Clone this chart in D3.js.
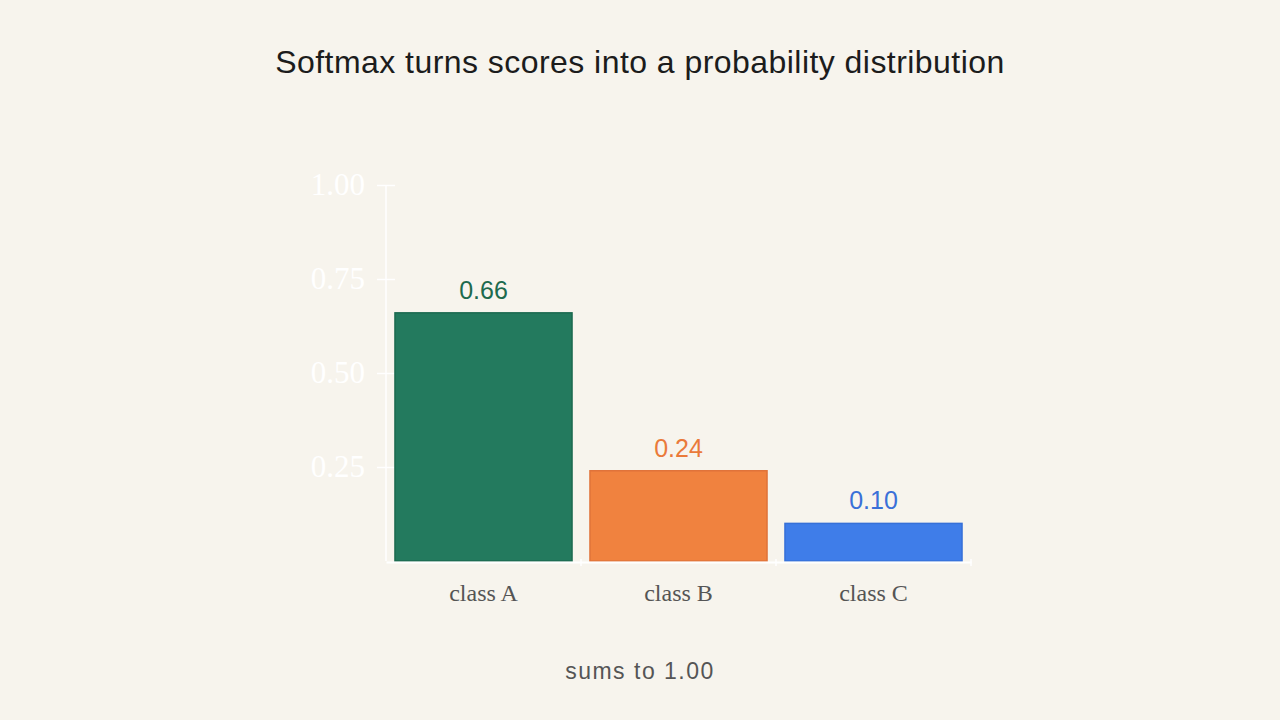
<!DOCTYPE html>
<html>
<head>
<meta charset="utf-8">
<script src="https://cdn.jsdelivr.net/npm/d3@7"></script>
<style>
	html, body { margin: 0; padding: 0; background: #f7f4ed; }
	svg { display: block; }
</style>
</head>
<body>
<div id="chart"></div>
<script>
// Chart data
const categories = ["class A", "class B", "class C"];
const probs = [0.66, 0.24, 0.10];
const yTicks = [0.25, 0.50, 0.75, 1.00];
const barColors = ["#237a5e", "#f0823f", "#3f7de9"];
const strokeColors = ["#1c6a50", "#e0733a", "#3670d8"];
const labelColors = ["#1d6a4e", "#ea7a3a", "#3a70d8"];
const titleText = "Softmax turns scores into a probability distribution";
const noteText = "sums to 1.00";

const width = 1280, height = 720;

const svg = d3.select("#chart").append("svg")
	.attr("width", width)
	.attr("height", height)
	.attr("viewBox", [0, 0, width, height]);

svg.append("rect")
	.attr("width", width)
	.attr("height", height)
	.attr("fill", "#f7f4ed");

const x = d3.scaleBand()
	.domain(categories)
	.range([386, 971])
	.paddingInner(0.092)
	.paddingOuter(0.046);

const y = d3.scaleLinear()
	.domain([0, 1])
	.range([561, 185]);

// title
svg.append("text")
	.attr("x", width / 2)
	.attr("y", 73)
	.attr("text-anchor", "middle")
	.attr("font-family", "'Liberation Sans', Arial, sans-serif")
	.attr("font-size", 32)
	.attr("letter-spacing", 0.45)
	.attr("fill", "#1c1c1c")
	.text(titleText);

// y axis (white, almost invisible)
const yAxis = svg.append("g")
	.attr("transform", "translate(386,0)")
	.call(d3.axisLeft(y).tickValues(yTicks).tickFormat(d3.format(".2f")).tickSize(9).tickPadding(12));

yAxis.select(".domain").attr("stroke", "#ffffff").attr("stroke-width", 1.5).attr("d", `M0,${y(1)}V${y(0)}`);
yAxis.selectAll(".tick line").attr("stroke", "#ffffff").attr("stroke-width", 1.5).attr("x1", 9);
yAxis.selectAll(".tick text")
	.attr("fill", "#ffffff")
	.attr("font-family", "'Liberation Serif', 'DejaVu Serif', serif")
	.attr("font-size", 31);

// bars
svg.append("g")
	.selectAll("rect")
	.data(probs)
	.join("rect")
	.attr("x", (d, i) => x(categories[i]))
	.attr("y", d => y(d))
	.attr("width", x.bandwidth())
	.attr("height", d => y(0) - y(d))
	.attr("fill", (d, i) => barColors[i])
	.attr("stroke", (d, i) => strokeColors[i])
	.attr("stroke-width", 1.5);

// x axis
const xAxis = svg.append("g")
	.attr("transform", `translate(0,${y(0) + 1})`)
	.call(d3.axisBottom(x).tickSize(0).tickPadding(22));

xAxis.select(".domain").attr("stroke", "#ffffff").attr("stroke-width", 2);
xAxis.selectAll(".tick text")
	.attr("fill", "#555555")
	.attr("font-family", "'Liberation Serif', 'DejaVu Serif', serif")
	.attr("font-size", 24);

// little white ticks between bars
svg.append("g")
	.selectAll("line")
	.data(categories)
	.join("line")
	.attr("x1", d => x(d) + x.step() - x.step() * 0.046)
	.attr("x2", d => x(d) + x.step() - x.step() * 0.046)
	.attr("y1", y(0) - 2)
	.attr("y2", y(0) + 5)
	.attr("stroke", "#ffffff")
	.attr("stroke-width", 1.5);

// value labels
svg.append("g")
	.selectAll("text")
	.data(probs)
	.join("text")
	.attr("x", (d, i) => x(categories[i]) + x.bandwidth() / 2)
	.attr("y", d => y(d) - 14)
	.attr("text-anchor", "middle")
	.attr("font-family", "'Liberation Sans', Arial, sans-serif")
	.attr("font-size", 25)
	.attr("fill", (d, i) => labelColors[i])
	.text(d => d3.format(".2f")(d));

// note
svg.append("text")
	.attr("x", width / 2)
	.attr("y", 679)
	.attr("text-anchor", "middle")
	.attr("font-family", "'Liberation Sans', Arial, sans-serif")
	.attr("font-size", 23)
	.attr("letter-spacing", 1.5)
	.attr("fill", "#555555")
	.text(noteText);
</script>
</body>
</html>
